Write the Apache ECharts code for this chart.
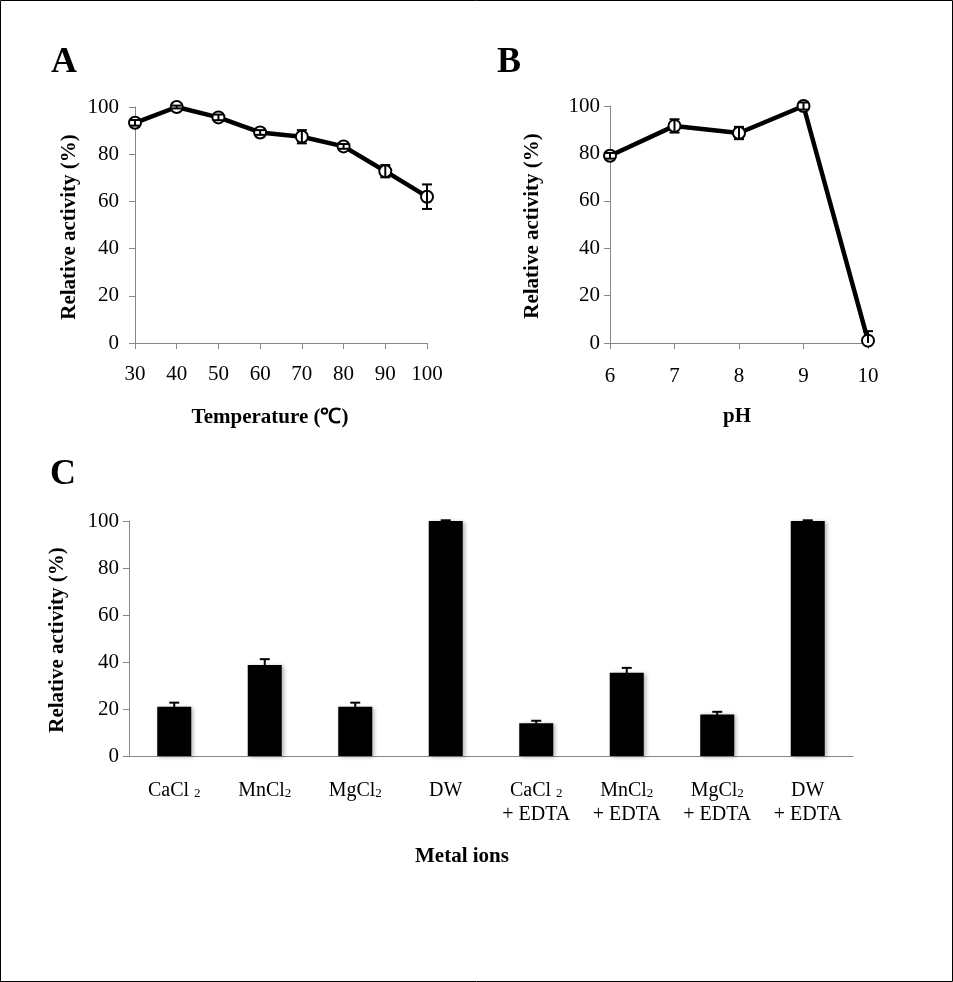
<!DOCTYPE html>
<html>
<head>
<meta charset="utf-8">
<script src="https://cdn.jsdelivr.net/npm/echarts@6/dist/echarts.min.js"></script>
<style>
html,body{margin:0;padding:0;background:#fff;}
#c{width:953px;height:982px;}
</style>
</head>
<body>
<div id="c"></div>
<script>
// ---- Data ----
const tempCats = ['30','40','50','60','70','80','90','100'];
const tempVals = [93.3, 100, 95.6, 89.2, 87.4, 83.3, 72.8, 62.0];
const tempErr  = [1.2, 0.6, 1.2, 1.0, 2.8, 1.0, 2.6, 5.2];

const phCats = ['6','7','8','9','10'];
const phVals = [79.0, 91.6, 88.6, 100, 1.0];
const phErr  = [1.2, 2.8, 2.6, 1.5, 4.0];

const metalCats = ['CaCl2','MnCl2','MgCl2','DW','CaCl2 + EDTA','MnCl2 + EDTA','MgCl2 + EDTA','DW + EDTA'];
const metalLabels = ['{n|CaCl }{s|2}','{n|MnCl}{s|2}','{n|MgCl}{s|2}','{n|DW}',
  '{n|CaCl }{s|2}\n{n|+ EDTA}','{n|MnCl}{s|2}\n{n|+ EDTA}','{n|MgCl}{s|2}\n{n|+ EDTA}','{n|DW}\n{n|+ EDTA}'];
const metalVals = [21.0, 38.7, 21.0, 100, 13.9, 35.4, 17.7, 100];
const metalErr  = [1.7, 2.5, 1.7, 0.3, 1.1, 2.1, 1.1, 0.3];

// ---- Chart ----
const FONT = '"Liberation Serif", "Times New Roman", serif';
const AX = '#868686';

function errSeries(xi, yi, vals, errs, capW, z) {
  return {
    type: 'custom', xAxisIndex: xi, yAxisIndex: yi, z: z || 5, silent: true,
    data: vals.map((v, i) => [i, v, errs[i]]),
    renderItem: function (params, api) {
      const i = api.value(0), v = api.value(1), e = api.value(2);
      const clipped = v - e < 0;
      const top = api.coord([i, v + e]);
      const bot = api.coord([i, Math.max(0, v - e)]);
      const st = { stroke: '#000', lineWidth: 2 };
      const ch = [
        { type: 'line', shape: { x1: top[0], y1: top[1], x2: bot[0], y2: bot[1] }, style: st },
        { type: 'line', shape: { x1: top[0] - capW/2, y1: top[1], x2: top[0] + capW/2, y2: top[1] }, style: st }
      ];
      if (!clipped) ch.push({ type: 'line', shape: { x1: bot[0] - capW/2, y1: bot[1], x2: bot[0] + capW/2, y2: bot[1] }, style: st });
      return { type: 'group', children: ch };
    }
  };
}

function yAxis(gi, margin) {
  return {
    type: 'value', gridIndex: gi, min: 0, max: 100, interval: 20,
    axisLine: { show: true, lineStyle: { color: AX, width: 1 } },
    axisTick: { show: true, length: 6, lineStyle: { color: AX } },
    splitLine: { show: false },
    axisLabel: { color: '#000', fontFamily: FONT, fontSize: 21, margin: margin }
  };
}

const chart = echarts.init(document.getElementById('c'), null, { renderer: 'canvas' });
const option = {
  backgroundColor: '#fff',
  animation: false,
  grid: [
    { left: 135, top: 107, width: 292, height: 236 },
    { left: 610, top: 106, width: 258, height: 237 },
    { left: 129, top: 521, width: 724, height: 235 }
  ],
  xAxis: [
    { type: 'category', gridIndex: 0, data: tempCats, boundaryGap: false,
      axisLine: { lineStyle: { color: AX } },
      axisTick: { length: 6, lineStyle: { color: AX } },
      axisLabel: { color: '#000', fontFamily: FONT, fontSize: 21, margin: 21 } },
    { type: 'category', gridIndex: 1, data: phCats, boundaryGap: false,
      axisLine: { lineStyle: { color: AX } },
      axisTick: { length: 6, lineStyle: { color: AX } },
      axisLabel: { color: '#000', fontFamily: FONT, fontSize: 21, margin: 23 } },
    { type: 'category', gridIndex: 2, data: metalCats, boundaryGap: true,
      axisLine: { lineStyle: { color: AX } },
      axisTick: { length: 7, lineStyle: { color: AX } },
      axisLabel: { color: '#000', fontFamily: FONT, margin: 23, interval: 0,
        formatter: function (v, i) { return metalLabels[i]; },
        rich: {
          n: { fontFamily: FONT, fontSize: 20, color: '#000', lineHeight: 24 },
          s: { fontFamily: FONT, fontSize: 13, color: '#000', lineHeight: 24, padding: [6, 0, 0, 0] }
        } } }
  ],
  yAxis: [ yAxis(0, 16), yAxis(1, 10), yAxis(2, 10) ],
  series: [
    { type: 'line', xAxisIndex: 0, yAxisIndex: 0, data: tempVals,
      symbol: 'emptyCircle', symbolSize: 12, z: 3,
      lineStyle: { color: '#000', width: 4.5 },
      itemStyle: { color: '#000', borderColor: '#000', borderWidth: 2 } },
    errSeries(0, 0, tempVals, tempErr, 10, 6),
    { type: 'line', xAxisIndex: 1, yAxisIndex: 1, data: phVals,
      symbol: 'emptyCircle', symbolSize: 12, z: 3,
      lineStyle: { color: '#000', width: 4.5 },
      itemStyle: { color: '#000', borderColor: '#000', borderWidth: 2 } },
    errSeries(1, 1, phVals, phErr, 10, 6),
    { type: 'bar', xAxisIndex: 2, yAxisIndex: 2, data: metalVals, barWidth: 34,
      itemStyle: { color: '#000', shadowColor: 'rgba(0,0,0,0.3)', shadowBlur: 4, shadowOffsetX: 2, shadowOffsetY: 1 } },
    errSeries(2, 2, metalVals, metalErr, 10, 6)
  ],
  graphic: [
    { type: 'rect', shape: { x: 0.5, y: 0.5, width: 952, height: 981 }, style: { fill: null, stroke: '#000', lineWidth: 1 }, z: 100 },
    { type: 'text', left: 51, top: 45, style: { text: 'A', font: 'bold 36px ' + FONT, fill: '#000' } },
    { type: 'text', left: 497, top: 45, style: { text: 'B', font: 'bold 36px ' + FONT, fill: '#000' } },
    { type: 'text', left: 50, top: 457, style: { text: 'C', font: 'bold 36px ' + FONT, fill: '#000' } },
    { type: 'text', x: 70, y: 227, rotation: Math.PI / 2,
      style: { text: 'Relative activity (%)', font: 'bold 21px ' + FONT, fill: '#000', align: 'center', verticalAlign: 'middle' } },
    { type: 'text', x: 533, y: 226, rotation: Math.PI / 2,
      style: { text: 'Relative activity (%)', font: 'bold 21px ' + FONT, fill: '#000', align: 'center', verticalAlign: 'middle' } },
    { type: 'text', x: 58, y: 640, rotation: Math.PI / 2,
      style: { text: 'Relative activity (%)', font: 'bold 21px ' + FONT, fill: '#000', align: 'center', verticalAlign: 'middle' } },
    { type: 'text', x: 270, y: 418,
      style: { text: 'Temperature (℃)', font: 'bold 21px ' + FONT, fill: '#000', align: 'center', verticalAlign: 'middle' } },
    { type: 'text', x: 737, y: 417,
      style: { text: 'pH', font: 'bold 21px ' + FONT, fill: '#000', align: 'center', verticalAlign: 'middle' } },
    { type: 'text', x: 462, y: 857,
      style: { text: 'Metal ions', font: 'bold 21px ' + FONT, fill: '#000', align: 'center', verticalAlign: 'middle' } }
  ]
};
chart.setOption(option);
</script>
</body>
</html>
